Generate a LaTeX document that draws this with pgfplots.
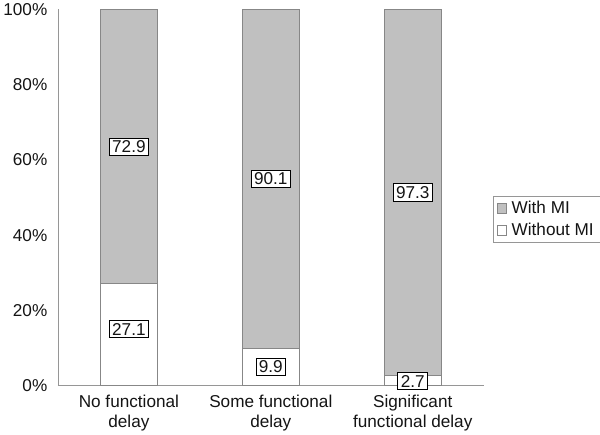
\documentclass[border=0pt]{standalone}
\usepackage{fontspec}
\setmainfont{Liberation Sans}
\usepackage{pgfplots}
\pgfplotsset{compat=1.18}
\definecolor{barfill}{RGB}{192,192,192}
\definecolor{baredge}{RGB}{135,135,135}
\definecolor{axisgray}{RGB}{150,150,150}
\definecolor{txt}{RGB}{20,20,20}
\begin{document}
\begin{tikzpicture}[x=1bp,y=1bp]
\begin{axis}[
  scale only axis,
  width=420bp, height=371bp,
  xmin=-0.5, xmax=2.5,
  ymin=0, ymax=100,
  axis x line=bottom, axis y line=left,
  axis line style={draw=axisgray, line width=0.8pt, -},
  xtick={0,1,2},
  xticklabels={No functional\\delay, Some functional\\delay, Significant\\functional delay},
  xticklabel style={align=center, font=\fontsize{17}{19.5}\selectfont, text=txt, yshift=-6bp},
  ytick={0,20,40,60,80,100},
  yticklabels={0\%,20\%,40\%,60\%,80\%,100\%},
  yticklabel style={font=\fontsize{17}{20}\selectfont, text=txt, xshift=-7bp},
  major tick length=0pt,
  legend style={at={(1.021,0.442)}, anchor=west, draw=axisgray, font=\fontsize{17}{20}\selectfont, text=txt, row sep=4bp, inner xsep=4bp, inner ysep=3bp,
    /tikz/every odd column/.append style={column sep=3bp}},
  legend cell align=left,
  legend image code/.code={\draw[#1] (0bp,-4.5bp) rectangle (9bp,4.5bp);},
  clip=false,
]
\addplot[ybar, bar width=56bp, bar shift=0pt, fill=barfill, draw=baredge, line width=0.6pt]
  coordinates {(0,100) (1,100) (2,100)};
\addlegendentry{With MI}
\addplot[ybar, bar width=56bp, bar shift=0pt, fill=white, draw=baredge, line width=0.6pt]
  coordinates {(0,27.1) (1,9.9) (2,2.7)};
\addlegendentry{Without MI}
\addplot[draw=none, mark=none, forget plot, point meta=explicit symbolic,
  nodes near coords,
  every node near coord/.style={anchor=center, draw=black, fill=white, inner xsep=3bp, inner ysep=2.5bp, line width=0.6pt, font=\fontsize{17}{20}\selectfont, text=txt}]
  coordinates {(0,15.0) [27.1] (0,63.55) [72.9] (1,5.0) [9.9] (1,54.95) [90.1] (2,1.2) [2.7] (2,51.35) [97.3]};
\end{axis}
\end{tikzpicture}
\end{document}
